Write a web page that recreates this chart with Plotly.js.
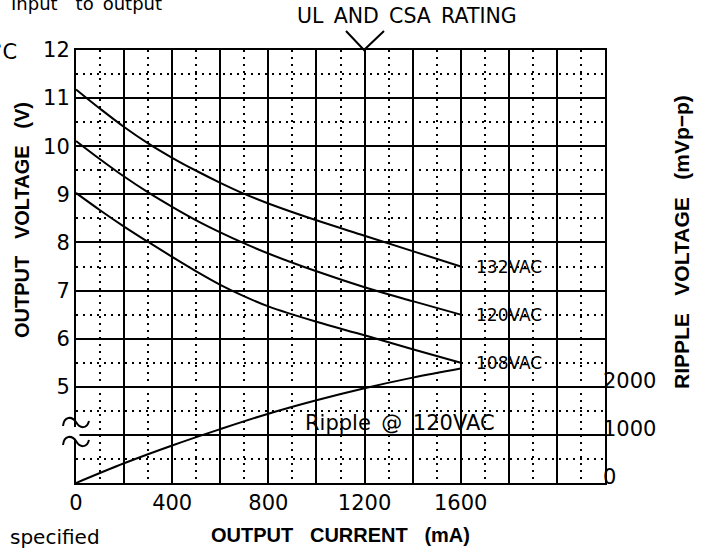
<!DOCTYPE html>
<html>
<head>
<meta charset="utf-8">
<script src="https://cdn.plot.ly/plotly-3.0.1.min.js"></script>
<style>
html,body{margin:0;padding:0;background:#fff;}
#chart{width:705px;height:554px;}
</style>
</head>
<body>
<div id="chart"></div>
<script>
// ---- data ----
const currentMa = [0, 100, 200, 300, 400, 500, 600, 700, 800, 1000, 1200, 1400, 1600];
const volts132 = [11.18, 10.78, 10.40, 10.06, 9.76, 9.49, 9.24, 9.01, 8.81, 8.46, 8.14, 7.82, 7.50];
const volts120 = [10.11, 9.73, 9.37, 9.04, 8.74, 8.46, 8.21, 7.98, 7.77, 7.40, 7.07, 6.78, 6.50];
const volts108 = [9.03, 8.67, 8.33, 8.01, 7.70, 7.40, 7.12, 6.88, 6.67, 6.35, 6.07, 5.78, 5.50];
const rippleCurrentMa = [0, 200, 400, 600, 800, 1000, 1200, 1400, 1600];
const rippleMv = [0, 410, 780, 1120, 1440, 1720, 1970, 2190, 2380];
const seriesLabels = ['132VAC', '120VAC', '108VAC'];
const rippleLabel = 'Ripple\u2002@\u2002120VAC';

const xTickVals = [0, 200, 400, 600, 800, 1000, 1200, 1400, 1600, 1800, 2000, 2200];
const xTickText = ['0', '', '400', '', '800', '', '1200', '', '1600', '', '', ''];
const yTickVals = [3, 4, 5, 6, 7, 8, 9, 10, 11, 12];
const yTickText = ['', '', '5', '6', '7', '8', '9', '10', '11', '12'];
const y2TickVals = [0, 1000, 2000];
const y2TickText = ['0', '1000', '2000'];

// ---- layout geometry (pixels) ----
const W = 705, H = 554;
const L = 76, R = 605, T = 50, B = 483;
const px = x => (x - L) / (R - L);
const py = y => (B - y) / (B - T);

const NB = '\u00A0';
const EN = '\u2002';
const regFont = 'DejaVu Sans, sans-serif';
const boldFont = 'Liberation Sans, Arial, sans-serif';

const lineStyle = {color: 'black', width: 2, shape: 'spline', smoothing: 1};
const traces = [
  {x: currentMa, y: volts132, name: seriesLabels[0], mode: 'lines', line: lineStyle, hoverinfo: 'skip'},
  {x: currentMa, y: volts120, name: seriesLabels[1], mode: 'lines', line: lineStyle, hoverinfo: 'skip'},
  {x: currentMa, y: volts108, name: seriesLabels[2], mode: 'lines', line: lineStyle, hoverinfo: 'skip'},
  {x: rippleCurrentMa, y: rippleMv, name: 'Ripple', yaxis: 'y2', mode: 'lines', line: lineStyle, hoverinfo: 'skip'}
];

const gridCommon = {
  showgrid: true, gridcolor: 'black', gridwidth: 2,
  showline: true, linecolor: 'black', linewidth: 2, mirror: true,
  ticks: '', zeroline: false, fixedrange: true
};

const series = [volts132, volts120, volts108];
const annotations = series.map((s, i) => ({
  x: currentMa[currentMa.length - 1], y: s[s.length - 1], xref: 'x', yref: 'y',
  text: seriesLabels[i], showarrow: false, xanchor: 'left', yanchor: 'middle', xshift: 13,
  font: {family: regFont, size: 17, color: 'black'}
}));
annotations.push(
  {x: 946, y: 4.25, xref: 'x', yref: 'y', text: rippleLabel, showarrow: false,
   xanchor: 'left', yanchor: 'middle', font: {family: regFont, size: 21, color: 'black'}},
  {x: px(295), y: py(16), xref: 'paper', yref: 'paper', text: 'UL' + EN + 'AND' + EN + 'CSA' + EN + 'RATING',
   showarrow: false, xanchor: 'left', yanchor: 'middle', font: {family: regFont, size: 20.5, color: 'black'}},
  {x: px(164), y: py(3), xref: 'paper', yref: 'paper', text: 'Input' + EN + EN + 'to' + EN + 'output',
   showarrow: false, xanchor: 'right', yanchor: 'middle', font: {family: regFont, size: 18, color: 'black'}},
  {x: px(19), y: py(52), xref: 'paper', yref: 'paper', text: '°C',
   showarrow: false, xanchor: 'right', yanchor: 'middle', font: {family: regFont, size: 21, color: 'black'}},
  {x: px(8), y: py(537), xref: 'paper', yref: 'paper', text: 'specified',
   showarrow: false, xanchor: 'left', yanchor: 'middle', font: {family: regFont, size: 20, color: 'black'}},
  {x: px(22), y: py(220), xref: 'paper', yref: 'paper', text: 'OUTPUT' + NB + NB + ' VOLTAGE' + NB + NB + ' (V)',
   textangle: -90, showarrow: false, xanchor: 'center', yanchor: 'middle',
   font: {family: boldFont, size: 20, weight: 'bold', color: 'black'}},
  {x: px(682), y: py(242), xref: 'paper', yref: 'paper', text: 'RIPPLE' + NB + NB + ' VOLTAGE' + NB + NB + ' (mVp\u2212p)',
   textangle: -90, showarrow: false, xanchor: 'center', yanchor: 'middle',
   font: {family: boldFont, size: 21, weight: 'bold', color: 'black'}}
);

const xr = px(364);
const shapes = [
  // UL/CSA pointer
  {type: 'path', xref: 'paper', yref: 'paper', layer: 'above',
   path: `M${px(346)},${py(31)} L${xr},${py(50)} L${px(384)},${py(31)}`,
   line: {color: 'black', width: 2}},
  // axis break gap
  {type: 'rect', xref: 'paper', yref: 'paper', layer: 'above',
   x0: px(73), x1: px(79.5), y0: py(427), y1: py(439), fillcolor: 'white', line: {width: 0}},
  // break squiggles
  {type: 'path', xref: 'paper', yref: 'paper', layer: 'above',
   path: `M${px(63)},${py(426)} C${px(64)},${py(416)} ${px(72)},${py(416)} ${px(76)},${py(422)} C${px(80)},${py(429)} ${px(87)},${py(429)} ${px(89)},${py(421)}`,
   line: {color: 'black', width: 2}},
  {type: 'path', xref: 'paper', yref: 'paper', layer: 'above',
   path: `M${px(63)},${py(445)} C${px(64)},${py(435)} ${px(72)},${py(435)} ${px(76)},${py(441)} C${px(80)},${py(448)} ${px(87)},${py(448)} ${px(89)},${py(440)}`,
   line: {color: 'black', width: 2}}
];

const layout = {
  width: W, height: H,
  margin: {l: L, r: W - R, t: T, b: H - B, pad: 0},
  paper_bgcolor: 'white', plot_bgcolor: 'white',
  showlegend: false,
  xaxis: Object.assign({}, gridCommon, {
    range: [0, 2200], tickmode: 'array', tickvals: xTickVals, ticktext: xTickText,
    tickfont: {family: regFont, size: 21, color: 'black'},
    minor: {tickmode: 'linear', tick0: 0, dtick: 100, showgrid: true, gridcolor: 'black', gridwidth: 2, griddash: '2px,5px', ticks: ''},
    title: {text: 'OUTPUT' + NB + NB + NB + 'CURRENT' + NB + NB + NB + '(mA)', standoff: 14,
            font: {family: boldFont, size: 20, weight: 'bold', color: 'black'}},
    automargin: false
  }),
  yaxis: Object.assign({}, gridCommon, {
    range: [3, 12], tickmode: 'array', tickvals: yTickVals, ticktext: yTickText,
    tickfont: {family: regFont, size: 21, color: 'black'},
    minor: {tickmode: 'linear', tick0: 3, dtick: 0.5, showgrid: true, gridcolor: 'black', gridwidth: 2, griddash: '2px,5px', ticks: ''},
    automargin: false
  }),
  yaxis2: {
    overlaying: 'y', side: 'right', range: [0, 9000],
    tickmode: 'array', tickvals: y2TickVals, ticktext: y2TickText,
    tickfont: {family: regFont, size: 21, color: 'black'},
    showgrid: false, showline: false, zeroline: false, ticks: '',
    ticklabelshift: -6, ticklabelstandoff: -3, fixedrange: true, automargin: false
  },
  annotations: annotations,
  shapes: shapes
};

Plotly.newPlot('chart', traces, layout, {staticPlot: true, displayModeBar: false});
</script>
</body>
</html>
